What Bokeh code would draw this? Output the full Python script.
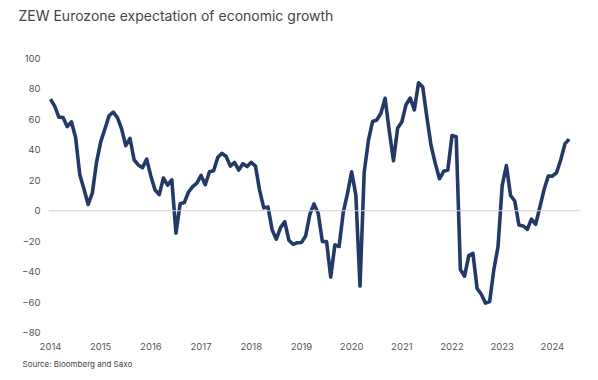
from bokeh.plotting import figure
from bokeh.models import FixedTicker, Span, Title, Range1d, ColumnDataSource
from bokeh.embed import file_html
from bokeh.resources import INLINE

years = list(range(2014, 2025))
values_by_year = {
    2014: [73.3, 68.7, 61.5, 61.2, 55.2, 58.4, 48.1, 23.7, 14.2, 4.1, 11.5, 31.8],
    2015: [45.2, 53.7, 62.4, 64.8, 61.2, 53.7, 42.7, 47.6, 33.3, 30.1, 28.3, 33.9],
    2016: [22.7, 13.6, 10.6, 21.5, 16.8, 20.2, -14.7, 4.6, 5.4, 12.3, 15.8, 18.1],
    2017: [23.2, 17.1, 25.6, 26.3, 35.1, 37.7, 35.6, 29.3, 31.7, 26.7, 30.9, 29.0],
    2018: [31.8, 29.3, 13.4, 1.9, 2.4, -12.6, -18.7, -11.1, -7.2, -19.4, -22.0, -21.0],
    2019: [-20.9, -16.6, -2.5, 4.5, -1.6, -20.2, -20.3, -43.6, -22.4, -23.5, -1.0, 11.2],
    2020: [25.6, 10.4, -49.5, 25.2, 46.0, 58.6, 59.6, 64.0, 73.9, 52.3, 32.8, 54.4],
    2021: [58.3, 69.6, 74.0, 66.3, 84.0, 81.3, 61.2, 42.7, 31.1, 21.0, 25.9, 26.8],
    2022: [49.4, 48.6, -38.7, -43.0, -29.5, -28.0, -51.1, -54.9, -60.7, -59.7, -38.7, -23.6],
    2023: [16.7, 29.7, 10.0, 6.4, -9.4, -10.0, -12.2, -5.5, -8.9, 2.3, 13.8, 22.7],
    2024: [22.7, 25.0, 33.5, 43.9, 47.0],
}
y_ticks = [-80, -60, -40, -20, 0, 20, 40, 60, 80, 100]
x_ticks = years

dates = []
vals = []
for y in years:
    for m, v in enumerate(values_by_year[y]):
        dates.append(y + m / 12.0)
        vals.append(v)

src = ColumnDataSource(dict(x=dates, y=vals))

p = figure(width=582, height=372, output_backend="svg", toolbar_location=None,
           x_range=Range1d(2013.96, 2024.56), y_range=Range1d(-80, 100),
           min_border_left=48, min_border_right=2, min_border_top=58, min_border_bottom=4)
p.outline_line_color = None
p.xgrid.grid_line_color = None
p.ygrid.grid_line_color = None

# spacer between title and plot frame
p.add_layout(Title(text=" ", text_font_size="30px", standoff=0), "above")

p.title.text = "ZEW Eurozone expectation of economic growth"
p.title.text_font = "Inter"
p.title.text_font_size = "14px"
p.title.text_font_style = "normal"
p.title.text_color = "#444444"
p.title.align = "left"
p.title.offset = -30
p.title.standoff = 0

p.add_layout(Span(location=0, dimension="width", line_color="#d0d0d0", line_width=1))

p.line("x", "y", source=src, line_color="#233a68", line_width=3.6, line_join="round")

for ax in (p.xaxis[0], p.yaxis[0]):
    ax.axis_line_color = None
    ax.major_tick_line_color = None
    ax.minor_tick_line_color = None
    ax.major_tick_out = 0
    ax.major_tick_in = 0
    ax.minor_tick_out = 0
    ax.major_label_text_font = "Inter"
    ax.major_label_text_font_size = "9.5px"
    ax.major_label_text_color = "#555555"

p.xaxis.ticker = FixedTicker(ticks=x_ticks)
p.yaxis.ticker = FixedTicker(ticks=y_ticks)
p.xaxis.major_label_standoff = 10
p.yaxis.major_label_standoff = 8

src_title = Title(text="Source: Bloomberg and Saxo", align="left", offset=-26,
                  text_font="Inter", text_font_size="8px", text_font_style="normal",
                  text_color="#444444", standoff=8)
p.add_layout(src_title, "below")

open("out.html", "w").write(file_html(p, INLINE))
